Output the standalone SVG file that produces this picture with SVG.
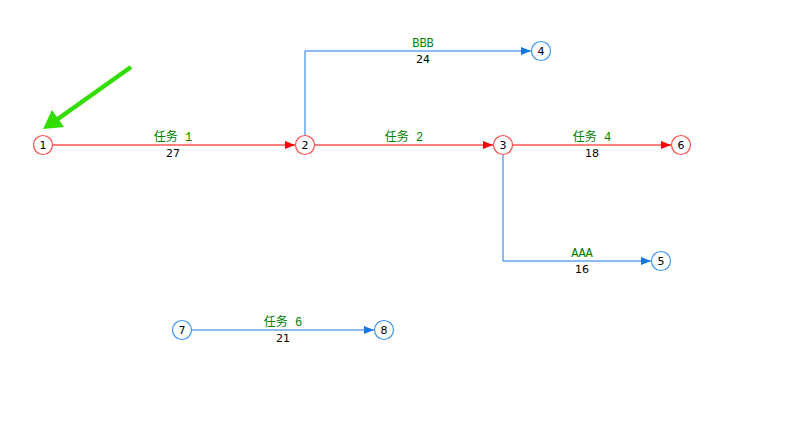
<svg xmlns="http://www.w3.org/2000/svg" width="810" height="422" viewBox="0 0 810 422">
<style>
.crit{fill:none;stroke:#ff0000;stroke-width:1}
.norm{fill:none;stroke:#1677e0;stroke-width:1}
.nc{fill:#fff;stroke:#ff4d4d;stroke-width:1.2}
.nb{fill:#fff;stroke:#3d96f0;stroke-width:1.2}
.nt{font-family:"DejaVu Sans","Liberation Sans",sans-serif;font-size:11px;fill:#000;text-anchor:middle}
.lbl{font-family:"Liberation Mono","Noto Sans CJK SC",monospace;font-size:12px;fill:#008000;text-anchor:middle}
.w{font-family:"DejaVu Sans","Liberation Sans",sans-serif;font-size:11px;fill:#000;text-anchor:middle}
</style>
<defs>
<marker id="ar" markerWidth="10" markerHeight="8" refX="10" refY="4" orient="auto" markerUnits="userSpaceOnUse"><path d="M0,0 L10,4 L0,8 Z" fill="#ff0000"/></marker>
<marker id="ab" markerWidth="10" markerHeight="8" refX="10" refY="4" orient="auto" markerUnits="userSpaceOnUse"><path d="M0,0 L10,4 L0,8 Z" fill="#1677e0"/></marker>
</defs>
<rect width="810" height="422" fill="#fff"/>
<g id="pointer">
<line x1="131" y1="67" x2="55" y2="121" stroke="#33dd00" stroke-width="4.5"/>
<path d="M43,129 L52,110 L64,127 Z" fill="#33dd00"/>
</g>
<g id="connectors">
<line class="crit" x1="53" y1="145" x2="295" y2="145" marker-end="url(#ar)"/>
<text class="lbl" x="173" y="141">任务 1</text><text class="w" x="173" y="157">27</text>
<line class="crit" x1="315" y1="145" x2="493" y2="145" marker-end="url(#ar)"/>
<text class="lbl" x="404" y="141">任务 2</text>
<line class="crit" x1="513" y1="145" x2="671" y2="145" marker-end="url(#ar)"/>
<text class="lbl" x="592" y="141">任务 4</text><text class="w" x="592" y="157">18</text>
<polyline class="norm" points="305,135 305,51 531,51" marker-end="url(#ab)"/>
<text class="lbl" x="423" y="47">BBB</text><text class="w" x="423" y="63">24</text>
<polyline class="norm" points="503,155 503,261 651,261" marker-end="url(#ab)"/>
<text class="lbl" x="582" y="257">AAA</text><text class="w" x="582" y="273">16</text>
<line class="norm" x1="192" y1="330" x2="374" y2="330" marker-end="url(#ab)"/>
<text class="lbl" x="283" y="326">任务 6</text><text class="w" x="283" y="342">21</text>
</g>
<g id="n1"><circle class="nc" cx="43" cy="145" r="9.5"/><text class="nt" x="43" y="149">1</text></g>
<g id="n2"><circle class="nc" cx="305" cy="145" r="9.5"/><text class="nt" x="305" y="149">2</text></g>
<g id="n3"><circle class="nc" cx="503" cy="145" r="9.5"/><text class="nt" x="503" y="149">3</text></g>
<g id="n6"><circle class="nc" cx="681" cy="145" r="9.5"/><text class="nt" x="681" y="149">6</text></g>
<g id="n4"><circle class="nb" cx="541" cy="51" r="9.5"/><text class="nt" x="541" y="55">4</text></g>
<g id="n5"><circle class="nb" cx="661" cy="261" r="9.5"/><text class="nt" x="661" y="265">5</text></g>
<g id="n7"><circle class="nb" cx="182" cy="330" r="9.5"/><text class="nt" x="182" y="334">7</text></g>
<g id="n8"><circle class="nb" cx="384" cy="330" r="9.5"/><text class="nt" x="384" y="334">8</text></g>
</svg>
